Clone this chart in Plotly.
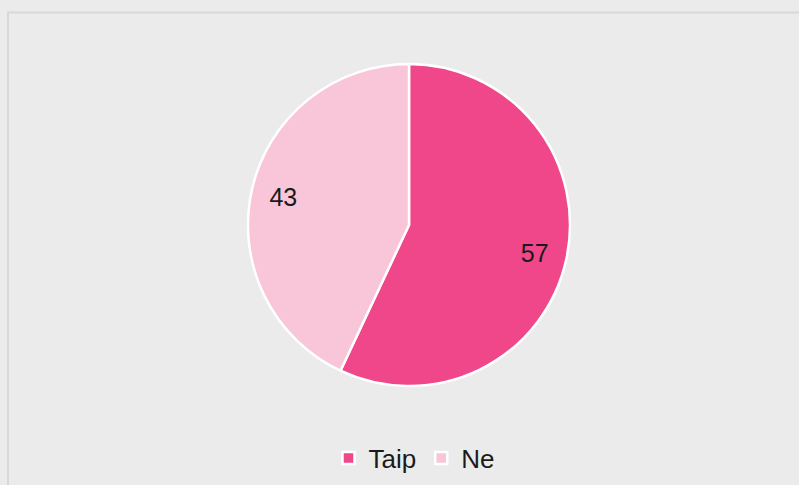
import plotly.graph_objects as go

# answers and their shares
labels = ["Taip", "Ne"]
values = [57, 43]
colors = ["#F0468A", "#F9C5D9"]

pie_domain = dict(x=[248 / 799, 570 / 799], y=[99 / 485, 421 / 485])
font_family = "Liberation Sans, Arial"

fig = go.Figure()

# full pie, carries the colours and the legend
fig.add_trace(
    go.Pie(
        labels=labels,
        values=values,
        sort=False,
        direction="clockwise",
        rotation=0,
        textinfo="none",
        marker=dict(colors=colors, line=dict(color="white", width=2.5)),
        domain=pie_domain,
    )
)

# invisible ring on top, only there so the numbers sit near the rim
fig.add_trace(
    go.Pie(
        labels=labels,
        values=values,
        sort=False,
        direction="clockwise",
        rotation=0,
        hole=0.6,
        textinfo="value",
        textposition="inside",
        insidetextorientation="horizontal",
        textfont=dict(family=font_family, size=25, color="#1a1a1a"),
        marker=dict(colors=["rgba(0,0,0,0)"] * len(labels), line=dict(width=0)),
        domain=pie_domain,
        showlegend=False,
        hoverinfo="skip",
    )
)

fig.update_layout(
    width=799,
    height=485,
    margin=dict(l=0, r=0, t=0, b=0),
    paper_bgcolor="#EBEBEB",
    plot_bgcolor="#EBEBEB",
    font=dict(family=font_family, size=26, color="#1a1a1a"),
    legend=dict(
        orientation="h",
        x=414 / 799,
        xanchor="center",
        y=27 / 485,
        yanchor="middle",
        font=dict(size=26),
        itemwidth=30,
    ),
    shapes=[
        dict(
            type="rect",
            xref="paper",
            yref="paper",
            x0=8 / 799,
            x1=1.05,
            y0=-0.05,
            y1=1 - 12.5 / 485,
            line=dict(color="#D8D8D8", width=2),
            fillcolor="rgba(0,0,0,0)",
            layer="below",
        )
    ],
)

# the page adds an 8px body margin by default, drop it
fig.write_html(
    "out.html",
    config={"displayModeBar": False},
    post_script="document.body.style.margin='0';",
)
